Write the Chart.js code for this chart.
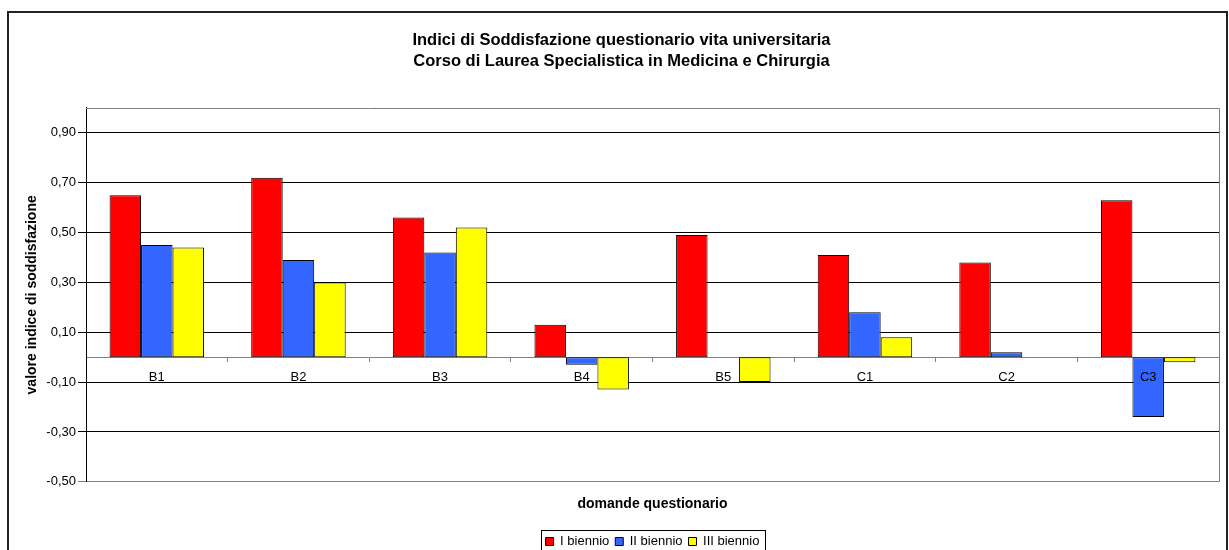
<!DOCTYPE html>
<html>
<head>
<meta charset="utf-8">
<script src="https://cdn.jsdelivr.net/npm/chart.js@4"></script>
<style>
  body { margin: 0; background: #fff; }
  #wrap { width: 1229px; height: 550px; }
</style>
</head>
<body>
<div id="wrap"><canvas id="chart" width="1229" height="550"></canvas></div>
<script>
const categories = ['B1', 'B2', 'B3', 'B4', 'B5', 'C1', 'C2', 'C3'];
const seriesNames = ['I biennio', 'II biennio', 'III biennio'];
const biennio1 = [0.65, 0.72, 0.56, 0.13, 0.49, 0.41, 0.38, 0.63];
const biennio2 = [0.45, 0.39, 0.42, -0.03, null, 0.18, 0.02, -0.24];
const biennio3 = [0.44, 0.30, 0.52, -0.13, -0.10, 0.08, null, -0.02];
const yTicks = [-0.5, -0.3, -0.1, 0.1, 0.3, 0.5, 0.7, 0.9];

const titleLines = ['Indici di Soddisfazione questionario vita universitaria',
                    'Corso di Laurea Specialistica in Medicina e Chirurgia'];

Chart.defaults.font.family = "'Liberation Sans', Arial, sans-serif";
Chart.defaults.color = '#000';

// outer frame, gray plot border, box around the legend items
const framePlugin = {
    id: 'frame',
    beforeDraw(chart) {
        const {ctx} = chart;
        ctx.save();
        ctx.fillStyle = '#fff';
        ctx.fillRect(0, 0, chart.width, chart.height);
        ctx.strokeStyle = '#222';
        ctx.lineWidth = 2;
        ctx.strokeRect(8, 12, 1219, 600);
        ctx.restore();
    },
    beforeDatasetsDraw(chart) {
        const {ctx, chartArea} = chart;
        ctx.save();
        ctx.strokeStyle = '#808080';
        ctx.lineWidth = 1;
        ctx.beginPath();
        ctx.moveTo(chartArea.left, Math.round(chartArea.top) + 0.5);
        ctx.lineTo(Math.round(chartArea.right) + 0.5, Math.round(chartArea.top) + 0.5);
        ctx.lineTo(Math.round(chartArea.right) + 0.5, chartArea.bottom);
        ctx.stroke();
        ctx.restore();
    },
    afterDraw(chart) {
        const boxes = chart.legend.legendHitBoxes;
        if (!boxes || !boxes.length) return;
        const first = boxes[0];
        const last = boxes[boxes.length - 1];
        const {ctx} = chart;
        ctx.save();
        ctx.strokeStyle = '#000';
        ctx.lineWidth = 1;
        const x = Math.round(first.left - 5) + 0.5;
        const y = Math.round(first.top + first.height / 2 - 12) + 0.5;
        ctx.strokeRect(x, y, Math.round(last.left + last.width + 6 - x), 40);
        ctx.restore();
    }
};

new Chart(document.getElementById('chart'), {
    type: 'bar',
    data: {
        labels: categories,
        datasets: [
            {label: seriesNames[0], data: biennio1, backgroundColor: '#FF0000'},
            {label: seriesNames[1], data: biennio2, backgroundColor: '#3366FF'},
            {label: seriesNames[2], data: biennio3, backgroundColor: '#FFFF00'}
        ]
    },
    options: {
        responsive: false,
        animation: false,
        layout: {padding: {left: 24, right: 10, top: 0, bottom: -8}},
        datasets: {
            bar: {
                borderColor: '#000',
                borderWidth: 1,
                borderSkipped: false,
                categoryPercentage: 0.667,
                barPercentage: 1
            }
        },
        scales: {
            x: {
                position: {y: 0},
                afterFit: (scale) => { scale.height = 0; },
                grid: {
                    drawOnChartArea: false,
                    drawTicks: true,
                    tickLength: 4,
                    color: '#808080'
                },
                border: {display: true, color: '#808080', width: 1},
                ticks: {font: {size: 13}, padding: 8, maxRotation: 0, z: 1}
            },
            y: {
                min: -0.5,
                max: 1.0,
                afterFit: (scale) => { scale.width = 62; },
                afterBuildTicks: (scale) => {
                    scale.ticks = yTicks.map(v => ({value: v}));
                },
                grid: {
                    color: (c) => (c.tick && Math.abs(c.tick.value + 0.5) < 1e-6) ? '#808080' : '#000',
                    tickLength: 8,
                    lineWidth: 1
                },
                border: {display: true, color: '#000', width: 1},
                ticks: {
                    font: {size: 13},
                    padding: 2,
                    callback: (v) => Number(v).toFixed(2).replace('.', ',')
                },
                title: {
                    display: true,
                    text: 'valore indice di soddisfazione',
                    font: {size: 14, weight: 'bold'},
                    padding: 0
                }
            }
        },
        plugins: {
            title: {
                display: true,
                text: titleLines,
                font: {size: 16.5, weight: 'bold', lineHeight: 1.27},
                padding: {top: 30, bottom: 36},
                color: '#000'
            },
            legend: {
                position: 'bottom',
                fullSize: false,
                title: {
                    display: true,
                    text: 'domande questionario',
                    font: {size: 14, weight: 'bold'},
                    padding: {top: 15, bottom: 15.4}
                },
                labels: {
                    boxWidth: 8,
                    boxHeight: 8,
                    padding: 6,
                    font: {size: 13}
                }
            },
            tooltip: {enabled: false}
        }
    },
    plugins: [framePlugin]
});
</script>
</body>
</html>
